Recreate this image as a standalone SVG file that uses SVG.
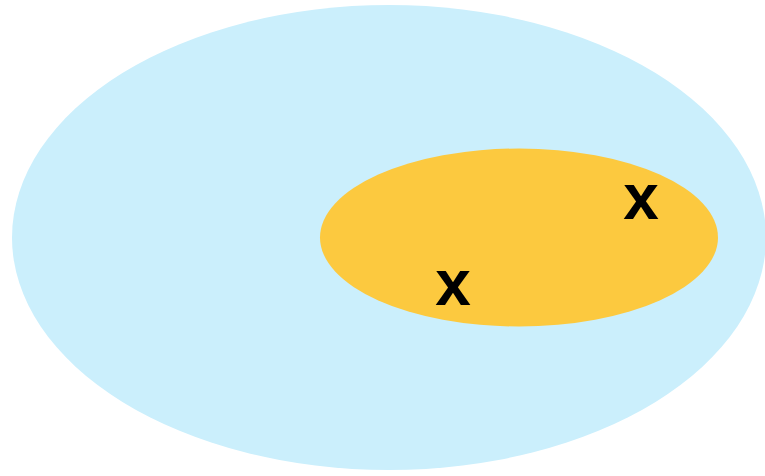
<svg xmlns="http://www.w3.org/2000/svg" width="765" height="476" viewBox="0 0 765 476">
<style>
.lbl{font-family:"Liberation Sans",Arial,sans-serif;font-size:64px;font-weight:bold;fill:#000;text-anchor:middle}
</style>
<rect width="765" height="476" fill="#fff"/>
<g id="outer"><ellipse cx="389" cy="237.5" rx="377" ry="232.5" fill="#CBEFFC"/></g>
<g id="inner"><ellipse cx="519" cy="237.5" rx="199" ry="89" fill="#FCC93F"/></g>
<g id="x1"><text class="lbl" x="641" y="219">x</text></g>
<g id="x2"><text class="lbl" x="453" y="305">x</text></g>
</svg>
